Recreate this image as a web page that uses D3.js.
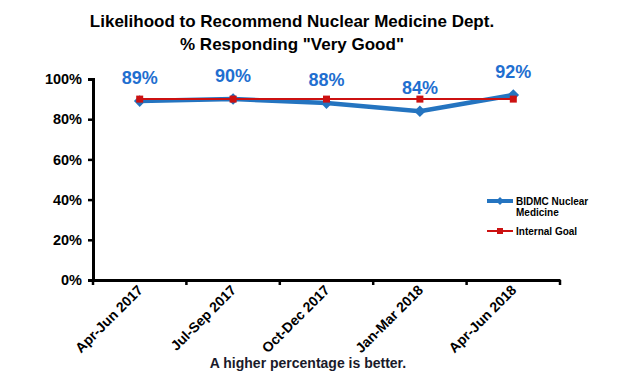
<!DOCTYPE html>
<html>
<head>
<meta charset="utf-8">
<script src="https://cdn.jsdelivr.net/npm/d3@7"></script>
<style>
  body { margin: 0; background: #fff; }
  text { font-family: Arial, "Liberation Sans", sans-serif; }
</style>
</head>
<body>
<div id="chart"></div>
<script>
var categories = ['Apr-Jun 2017', 'Jul-Sep 2017', 'Oct-Dec 2017', 'Jan-Mar 2018', 'Apr-Jun 2018'];
var bidmc = [89, 90, 88, 84, 92];
var goal = [90, 90, 90, 90, 90];
var yTicks = [0, 20, 40, 60, 80, 100];

var chartWidth = 620;
var chartHeight = 375;

var svg = d3.select('#chart')
    .append('svg')
    .attr('width', chartWidth)
    .attr('height', chartHeight);

// Scales
var scaleX = d3.scaleBand()
    .domain(categories)
    .range([93, 560]);

var scaleY = d3.scaleLinear()
    .domain([0, 100])
    .range([280, 79]);

function cx(i) {
  return scaleX(categories[i]) + scaleX.bandwidth() / 2;
}

// Title
svg.append('text')
    .attr('x', 292).attr('y', 27)
    .attr('text-anchor', 'middle')
    .style('font-size', '17px').style('font-weight', 'bold')
    .text('Likelihood  to Recommend Nuclear Medicine Dept.');
svg.append('text')
    .attr('x', 292).attr('y', 50)
    .attr('text-anchor', 'middle')
    .style('font-size', '17px').style('font-weight', 'bold')
    .text('% Responding "Very Good"');

// Y axis
var yAxis = svg.append('g')
    .attr('transform', 'translate(93,0)')
    .call(d3.axisLeft(scaleY).tickValues(yTicks).tickSize(5).tickPadding(6)
      .tickFormat(function(d) { return d + '%'; }));
yAxis.select('.domain').attr('stroke', '#000').attr('stroke-width', 3);
yAxis.selectAll('.tick line').attr('stroke', '#000').attr('stroke-width', 2.5);
yAxis.selectAll('.tick text')
    .style('font-size', '14.5px').style('font-weight', 'bold').attr('fill', '#000');

// X axis
var xAxis = svg.append('g')
    .attr('transform', 'translate(0,280)')
    .call(d3.axisBottom(scaleX).tickSize(0).tickFormat(''));
xAxis.select('.domain').attr('stroke', '#000').attr('stroke-width', 3);
var bounds = categories.map(function(c) { return scaleX(c); }).concat([scaleX.range()[1]]);
xAxis.selectAll('.bound')
    .data(bounds)
    .enter()
    .append('line')
    .attr('x1', function(d) { return d; })
    .attr('x2', function(d) { return d; })
    .attr('y1', 0).attr('y2', 5)
    .attr('stroke', '#000').attr('stroke-width', 2.5);

// X labels, rotated
svg.selectAll('.xlabel')
    .data(categories)
    .enter()
    .append('text')
    .attr('class', 'xlabel')
    .attr('text-anchor', 'end')
    .attr('transform', function(d, i) {
      return 'translate(' + (cx(i) + 4) + ',291) rotate(-45)';
    })
    .style('font-size', '14px').style('font-weight', 'bold')
    .text(function(d) { return d; });

// Blue series
var line = d3.line()
    .x(function(d, i) { return cx(i); })
    .y(function(d) { return scaleY(d); });

svg.append('path')
    .datum(bidmc)
    .attr('d', line)
    .attr('fill', 'none')
    .attr('stroke', '#2474c0')
    .attr('stroke-width', 4.5);

svg.selectAll('.diamond')
    .data(bidmc)
    .enter()
    .append('path')
    .attr('class', 'diamond')
    .attr('d', d3.symbol().type(d3.symbolDiamond2).size(85))
    .attr('transform', function(d, i) {
      return 'translate(' + cx(i) + ',' + scaleY(d) + ')';
    })
    .attr('fill', '#2474c0');

// Goal series
svg.append('path')
    .datum(goal)
    .attr('d', line)
    .attr('fill', 'none')
    .attr('stroke', '#cc1111')
    .attr('stroke-width', 2);

svg.selectAll('.square')
    .data(goal)
    .enter()
    .append('rect')
    .attr('class', 'square')
    .attr('x', function(d, i) { return cx(i) - 3.5; })
    .attr('y', function(d) { return scaleY(d) - 3.5; })
    .attr('width', 7).attr('height', 7)
    .attr('fill', '#cc1111');

// Data labels
svg.selectAll('.dlabel')
    .data(bidmc)
    .enter()
    .append('text')
    .attr('class', 'dlabel')
    .attr('x', function(d, i) { return cx(i); })
    .attr('y', function(d) { return scaleY(d) - 17; })
    .attr('text-anchor', 'middle')
    .attr('fill', '#1f6fd0')
    .style('font-size', '18px').style('font-weight', 'bold')
    .text(function(d) { return d + '%'; });

// Legend
var legend = svg.append('g').attr('transform', 'translate(487,0)');
legend.append('line')
    .attr('x1', 0).attr('x2', 26).attr('y1', 201).attr('y2', 201)
    .attr('stroke', '#2474c0').attr('stroke-width', 4);
legend.append('path')
    .attr('d', d3.symbol().type(d3.symbolDiamond2).size(40))
    .attr('transform', 'translate(13,201)')
    .attr('fill', '#2474c0');
legend.append('text')
    .attr('x', 29).attr('y', 205)
    .style('font-size', '10px').style('font-weight', 'bold')
    .text('BIDMC Nuclear');
legend.append('text')
    .attr('x', 29).attr('y', 216)
    .style('font-size', '10px').style('font-weight', 'bold')
    .text('Medicine');
legend.append('line')
    .attr('x1', 0).attr('x2', 26).attr('y1', 231).attr('y2', 231)
    .attr('stroke', '#cc1111').attr('stroke-width', 2);
legend.append('rect')
    .attr('x', 10).attr('y', 228).attr('width', 6).attr('height', 6)
    .attr('fill', '#cc1111');
legend.append('text')
    .attr('x', 29).attr('y', 235)
    .style('font-size', '10px').style('font-weight', 'bold')
    .text('Internal Goal');

// Footnote
svg.append('text')
    .attr('x', 308).attr('y', 368)
    .attr('text-anchor', 'middle')
    .style('font-size', '14px').style('font-weight', 'bold')
    .attr('fill', '#1a1a2a')
    .text('A  higher  percentage is better.');
</script>
</body>
</html>
